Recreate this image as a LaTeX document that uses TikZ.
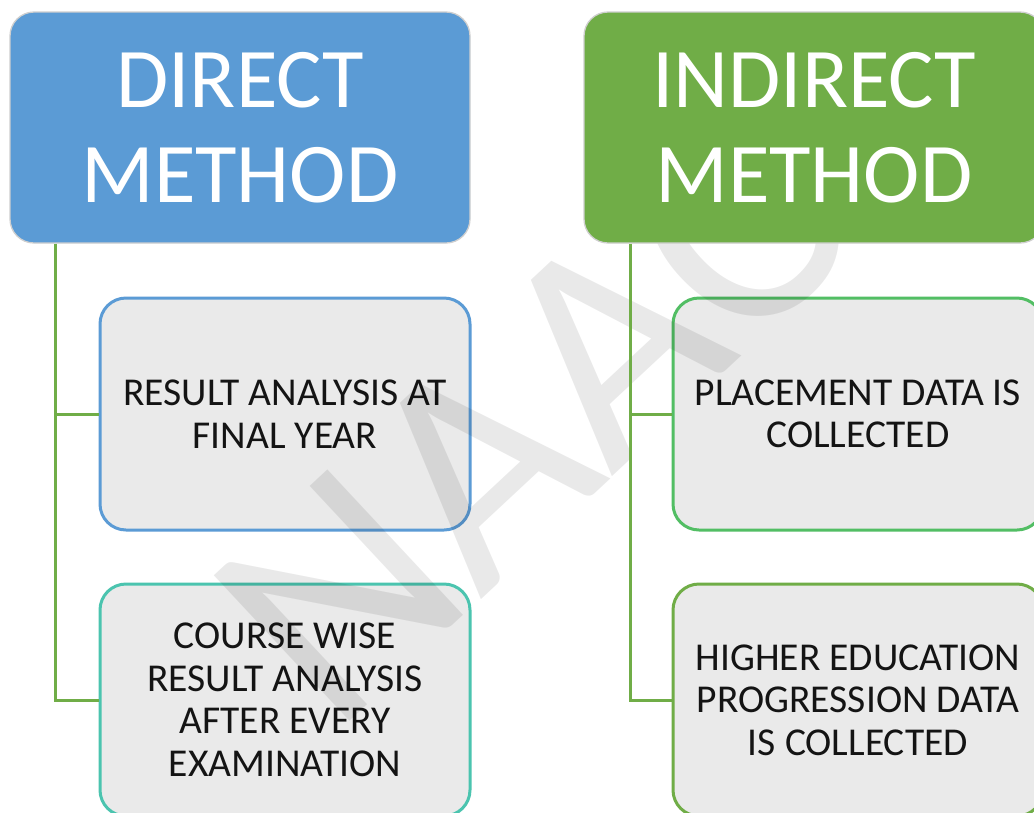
\documentclass[tikz,border=0pt]{standalone}
\usepackage{fontspec}
\setmainfont{Carlito}
\definecolor{hblue}{HTML}{5B9BD5}
\definecolor{hgreen}{HTML}{70AD47}
\definecolor{bgray}{HTML}{EAEAEA}
\definecolor{cteal}{HTML}{4BC4AF}
\definecolor{cgreen}{HTML}{52BE64}
\definecolor{hborder}{HTML}{CFCFCF}
\definecolor{ctext}{HTML}{141414}
\tikzset{
  header/.style={rounded corners=24pt, minimum width=460pt, minimum height=231pt,
    draw=hborder, line width=1.3pt, text=white, align=center, inner sep=0pt,
    font=\fontsize{85}{95}\selectfont},
  child/.style={rounded corners=26pt, minimum width=370pt, minimum height=232pt,
    fill=bgray, line width=3pt, text=ctext, align=center, inner sep=0pt,
    font=\fontsize{39.5}{42.5}\selectfont},
  conn/.style={draw=hgreen, line width=3pt},
  watermark/.style={rotate=43, text=black, opacity=0.085, inner sep=0pt,
    font=\fontsize{310}{310}\selectfont}
}
\begin{document}
\begin{tikzpicture}[x=1pt,y=-1pt]
\useasboundingbox (0,0) rectangle (1034,812);
\fill[white] (0,0) rectangle (1034,812);
\clip (0,0) rectangle (1034,812);
\coordinate (lx) at (55,0);
\coordinate (rx) at (630,0);
\coordinate (d1c) at (285,414);
\coordinate (d2c) at (285,700);
\coordinate (i1c) at (858,414);
\coordinate (i2c) at (858,700);
\node[child, draw=hblue] (d1) at (d1c) {RESULT ANALYSIS AT\\FINAL YEAR};
\node[child, draw=cteal] (d2) at (d2c) {COURSE WISE\\RESULT ANALYSIS\\AFTER EVERY\\EXAMINATION};
\node[child, draw=cgreen] (i1) at (i1c) {PLACEMENT DATA IS\\COLLECTED};
\node[child, draw=hgreen] (i2) at (i2c) {HIGHER EDUCATION\\PROGRESSION DATA\\IS COLLECTED};
\node[watermark] (wm) at (530,418) {NAAC};
\node[header, fill=hblue] (dh) at (240,127.5) {DIRECT\\METHOD};
\node[header, fill=hgreen] (ih) at (814,127.5) {INDIRECT\\METHOD};
\draw[conn] (lx |- dh.south) |- (d2.west);
\draw[conn] (lx |- d1.west) -- (d1.west);
\draw[conn] (rx |- ih.south) |- (i2.west);
\draw[conn] (rx |- i1.west) -- (i1.west);
\end{tikzpicture}
\end{document}
